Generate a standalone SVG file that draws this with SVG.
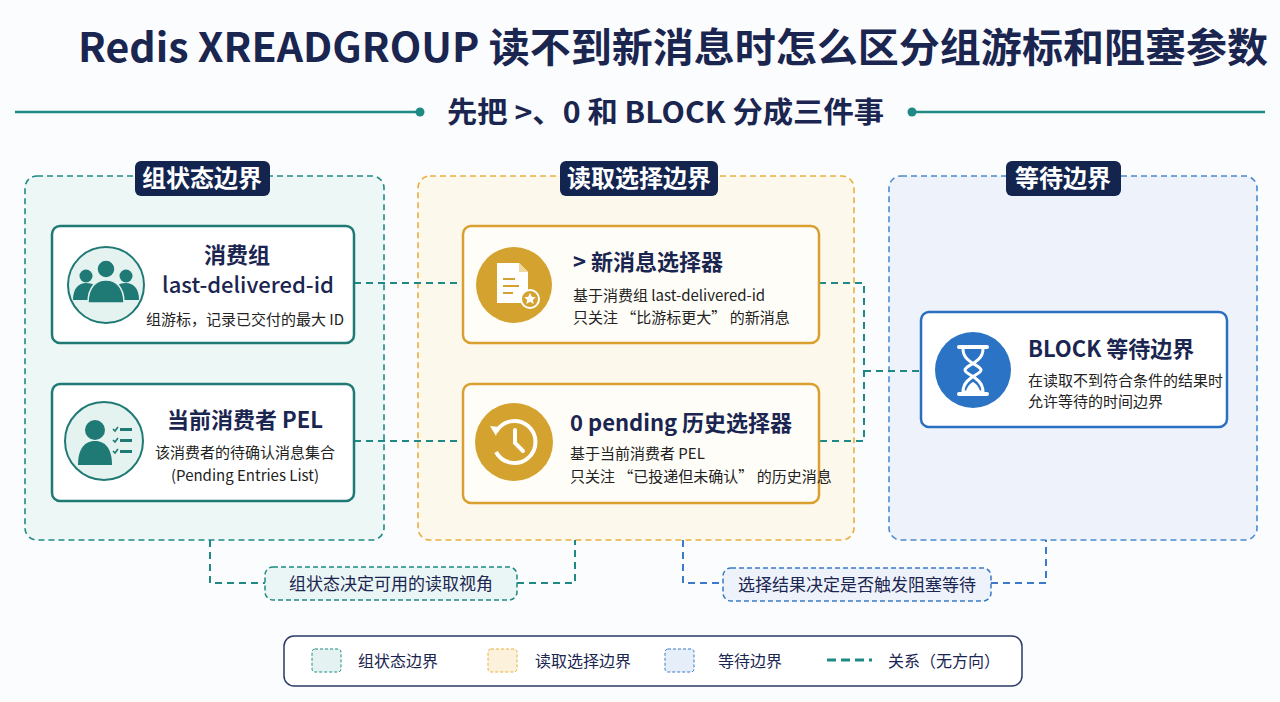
<svg xmlns="http://www.w3.org/2000/svg" width="1280" height="702" viewBox="0 0 1280 702">
<style>
text{font-family:"Noto Sans CJK SC","Noto Sans",sans-serif;fill:#1a2550}
.b{font-weight:700}
.badge{fill:#13244f}
.bt{fill:#fff;font-weight:700;font-size:24px}
.node{fill:#fff;stroke-width:2.5}
.sub{font-size:15px;fill:#222}
.conn{fill:none;stroke:#1f8a85;stroke-width:2;stroke-dasharray:7 5}
</style>
<rect width="1280" height="702" fill="#fbfcfd"/>
<text x="78" y="62" class="b" font-size="40" fill="#13244f" textLength="1190" lengthAdjust="spacingAndGlyphs">Redis XREADGROUP 读不到新消息时怎么区分组游标和阻塞参数</text>
<line x1="15" y1="112" x2="420" y2="112" stroke="#1f8a85" stroke-width="2.5"/>
<circle cx="420" cy="112" r="4.5" fill="#1f8a85"/>
<line x1="912" y1="112" x2="1265" y2="112" stroke="#1f8a85" stroke-width="2.5"/>
<circle cx="912" cy="112" r="4.5" fill="#1f8a85"/>
<text x="447" y="123" class="b" font-size="29" textLength="437" lengthAdjust="spacingAndGlyphs">先把 &gt;、0 和 BLOCK 分成三件事</text>

<g id="panel-group">
<rect x="25" y="176" width="359" height="364" rx="12" fill="#edf7f6" stroke="#1f8a85" stroke-width="1.6" stroke-dasharray="6 4"/>
<rect class="badge" x="135" y="161" width="135" height="35" rx="6"/>
<text x="202" y="187" text-anchor="middle" class="bt">组状态边界</text>
</g>
<g id="panel-read">
<rect x="418" y="176" width="436" height="364" rx="12" fill="#fdf8ec" stroke="#e8b040" stroke-width="1.6" stroke-dasharray="6 4"/>
<rect class="badge" x="560" y="161" width="158" height="35" rx="6"/>
<text x="639" y="187" text-anchor="middle" class="bt">读取选择边界</text>
</g>
<g id="panel-wait">
<rect x="889" y="176" width="368" height="364" rx="12" fill="#eef3fb" stroke="#4a8ad0" stroke-width="1.6" stroke-dasharray="6 4"/>
<rect class="badge" x="1006" y="161" width="115" height="35" rx="6"/>
<text x="1063" y="187" text-anchor="middle" class="bt">等待边界</text>
</g>

<g id="connectors">
<path class="conn" d="M354 283H463M354 441H463M819 283H864V441H819M864 371H921"/>
<path class="conn" d="M210 540V583H265M517 583H575V540"/>
<path class="conn" style="stroke:#3a7ac8" d="M683 540V583H723M991 583H1046V540"/>
</g>

<g id="label-1">
<rect x="265" y="567" width="252" height="33" rx="8" fill="#eaf6f5" stroke="#1f8a85" stroke-width="1.5" stroke-dasharray="5 3"/>
<text x="391" y="590" text-anchor="middle" font-size="17">组状态决定可用的读取视角</text>
</g>
<g id="label-2">
<rect x="723" y="568" width="268" height="33" rx="8" fill="#eef3fb" stroke="#3a7ac8" stroke-width="1.5" stroke-dasharray="5 3"/>
<text x="857" y="591" text-anchor="middle" font-size="17">选择结果决定是否触发阻塞等待</text>
</g>

<g id="node-group">
<rect class="node" x="52" y="226" width="302" height="117" rx="8" stroke="#1f7a75"/>
<circle cx="106" cy="285" r="38" fill="#e4f2f0" stroke="#1f7a75" stroke-width="2"/>
<g fill="#1f7a75">
<circle cx="86" cy="276" r="6.5"/><path d="M73 300c0-12 6-17 13-17s10 3 10 6l-5 11z"/>
<circle cx="126" cy="276" r="6.5"/><path d="M139 300c0-12-6-17-13-17s-10 3-10 6l5 11z"/>
<circle cx="106" cy="269" r="9" stroke="#e4f2f0" stroke-width="1.5"/><path d="M88 303c0-16 8-23 18-23s18 7 18 23z" stroke="#e4f2f0" stroke-width="1.5"/>
</g>
<text x="237" y="263" text-anchor="middle" class="b" font-size="22">消费组</text>
<text x="248" y="293" text-anchor="middle" font-size="22" font-weight="500">last-delivered-id</text>
<text x="245" y="325" text-anchor="middle" class="sub">组游标，记录已交付的最大 ID</text>
</g>

<g id="node-pel">
<rect class="node" x="52" y="384" width="302" height="117" rx="8" stroke="#1f7a75"/>
<circle cx="104" cy="441" r="39" fill="#e4f2f0" stroke="#1f7a75" stroke-width="2"/>
<g fill="#1f7a75">
<circle cx="95" cy="430" r="10"/><path d="M78 465c0-18 8-24 17-24s17 6 17 24z"/>
<rect x="120" y="428" width="12" height="3"/><rect x="120" y="439" width="12" height="3"/><rect x="120" y="450" width="12" height="3"/>
</g>
<path d="M113 429l2 2 3-4M113 440l2 2 3-4M113 451l2 2 3-4" fill="none" stroke="#1f7a75" stroke-width="1.6"/>
<text x="245" y="428" text-anchor="middle" class="b" font-size="22">当前消费者 PEL</text>
<text x="245" y="458" text-anchor="middle" class="sub">该消费者的待确认消息集合</text>
<text x="245" y="481" text-anchor="middle" class="sub">(Pending Entries List)</text>
</g>

<g id="node-new">
<rect class="node" x="463" y="226" width="356" height="117" rx="8" stroke="#d9a030" style="fill:#fffdf8"/>
<circle cx="514" cy="285" r="38" fill="#d4a22e"/>
<path d="M497 263h22l9 9v31h-31z" fill="#fff"/>
<path d="M519 263v9h9" fill="#f0d9a0"/>
<path d="M503 279h12M503 286h16M503 293h10" stroke="#d4a22e" stroke-width="2"/>
<circle cx="530" cy="299" r="9" fill="#d4a22e" stroke="#fff" stroke-width="2"/>
<path d="M530 293l1.8 3.8 4 .4-3 2.7.9 4-3.7-2.1-3.7 2.1.9-4-3-2.7 4-.4z" fill="#fff"/>
<text x="573" y="270" class="b" font-size="22">&gt; 新消息选择器</text>
<text x="573" y="301" class="sub">基于消费组 last-delivered-id</text>
<text x="573" y="323" class="sub">只关注 “比游标更大” 的新消息</text>
</g>

<g id="node-pending">
<rect class="node" x="463" y="384" width="356" height="119" rx="8" stroke="#d9a030" style="fill:#fffdf8"/>
<circle cx="514" cy="442" r="39" fill="#d4a22e"/>
<path d="M496 432a21 21 0 1 1 0 20" fill="none" stroke="#fff" stroke-width="4"/>
<path d="M490 426l9 1-3 9z" fill="#fff"/>
<path d="M515 430v13l8 8" fill="none" stroke="#fff" stroke-width="4" stroke-linecap="round"/>
<text x="570" y="431" class="b" font-size="22">0 pending 历史选择器</text>
<text x="570" y="459" class="sub">基于当前消费者 PEL</text>
<text x="570" y="482" class="sub">只关注 “已投递但未确认” 的历史消息</text>
</g>

<g id="node-block">
<rect class="node" x="921" y="312" width="306" height="115" rx="8" stroke="#2b6fc0"/>
<circle cx="973" cy="370" r="38" fill="#2b73c4"/>
<path d="M959 347h28M959 394h28" stroke="#fff" stroke-width="4" stroke-linecap="round"/>
<path d="M963 349c0 14 18 16 18 21s-18 7-18 22h20c0-15-18-17-18-22s18-7 18-21" fill="none" stroke="#fff" stroke-width="3"/>
<path d="M966 391c2-7 7-9 7-9s5 2 7 9z" fill="#fff"/>
<text x="1028" y="357" class="b" font-size="22">BLOCK 等待边界</text>
<text x="1028" y="386" class="sub">在读取不到符合条件的结果时</text>
<text x="1028" y="407" class="sub">允许等待的时间边界</text>
</g>

<g id="legend">
<rect x="284" y="636" width="738" height="50" rx="10" fill="#fff" stroke="#2a3a6a" stroke-width="1.5"/>
<rect x="312" y="649" width="29" height="23" rx="3" fill="#e4f3f1" stroke="#1f8a85" stroke-dasharray="3 2"/>
<text x="358" y="667" font-size="16">组状态边界</text>
<rect x="488" y="649" width="29" height="23" rx="3" fill="#fcf2dc" stroke="#e8b040" stroke-dasharray="3 2"/>
<text x="535" y="667" font-size="16">读取选择边界</text>
<rect x="665" y="649" width="29" height="23" rx="3" fill="#e6eefa" stroke="#3a7ac8" stroke-dasharray="3 2"/>
<text x="718" y="667" font-size="16">等待边界</text>
<line x1="827" y1="660" x2="872" y2="660" stroke="#1f8a85" stroke-width="3" stroke-dasharray="9 5"/>
<text x="888" y="667" font-size="16">关系（无方向）</text>
</g>
</svg>
